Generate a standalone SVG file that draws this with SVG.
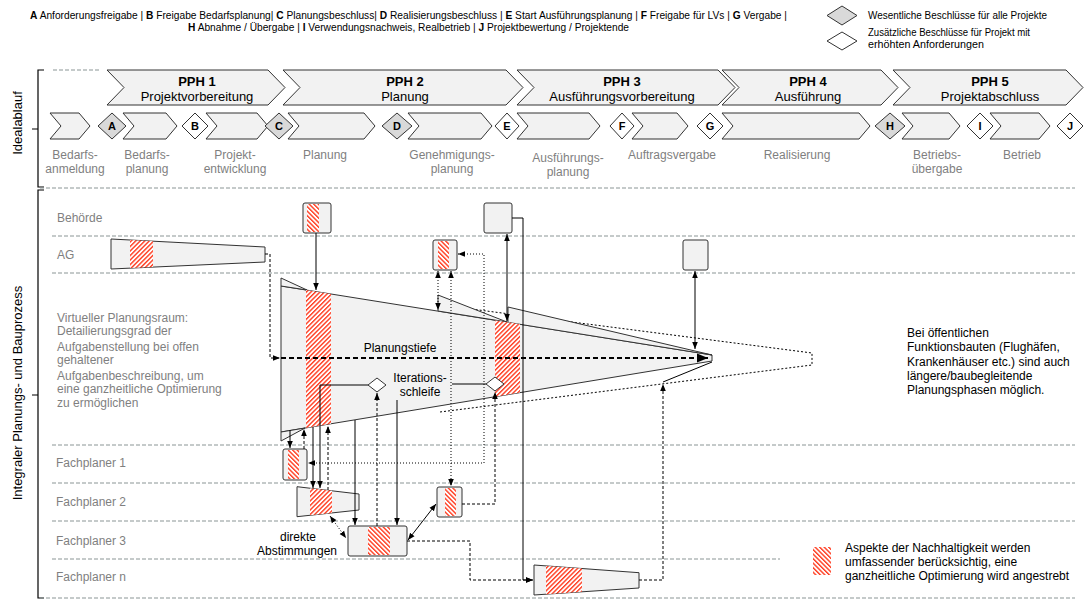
<svg xmlns="http://www.w3.org/2000/svg" width="1084" height="601" viewBox="0 0 1084 601">
<defs>
<style>
text{font-family:"Liberation Sans",Arial,sans-serif}
.t{font-size:12px;fill:#000}
.g{font-size:12px;fill:#7f7f7f}
.ph{font-size:13px;fill:#000}
.lg{font-size:10px;fill:#000}
.b{font-weight:bold}
.mid{text-anchor:middle}
.sh{fill:#f2f2f2;stroke:#333;stroke-width:1}
.dg{fill:#d9d9d9;stroke:#333;stroke-width:1}
.dw{fill:#fff;stroke:#333;stroke-width:1}
.dl{font-size:11px;font-weight:bold;text-anchor:middle;fill:#000}
.lane{stroke:#8a9595;stroke-width:1;stroke-dasharray:4 2;fill:none}
.c{fill:none;stroke:#000;stroke-width:1}
.cd{fill:none;stroke:#000;stroke-width:1;stroke-dasharray:3 2}
.co{fill:none;stroke:#000;stroke-width:1;stroke-dasharray:1 2}
.a{marker-end:url(#ah)}
.aa{marker-start:url(#ah);marker-end:url(#ah)}
.hf{fill:url(#hf)}
.hb{fill:url(#hb)}
</style>
<marker id="ah" viewBox="0 0 10 10" refX="10" refY="5" markerWidth="7" markerHeight="7" orient="auto-start-reverse" markerUnits="userSpaceOnUse"><path d="M0,1 L10,5 L0,9 z" fill="#000"/></marker>
<marker id="ahb" viewBox="0 0 10 10" refX="10" refY="5" markerWidth="11" markerHeight="11" orient="auto" markerUnits="userSpaceOnUse"><path d="M0,1 L10,5 L0,9 z" fill="#000"/></marker>
<pattern id="hf" patternUnits="userSpaceOnUse" width="3.2" height="8" patternTransform="rotate(45)"><rect width="3.2" height="8" fill="#fff"/><rect width="1.4" height="8" fill="#ff3b1f"/></pattern>
<pattern id="hb" patternUnits="userSpaceOnUse" width="3.2" height="8" patternTransform="rotate(-45)"><rect width="3.2" height="8" fill="#fff"/><rect width="1.4" height="8" fill="#ff3b1f"/></pattern>
<clipPath id="fc"><polygon points="281,286 712,355 712,361 281,432"/></clipPath>
</defs>
<rect width="1084" height="601" fill="#fff"/>

<g id="legend-top">
<text class="lg" x="30" y="19" textLength="757" lengthAdjust="spacingAndGlyphs"><tspan class="b">A</tspan> Anforderungsfreigabe | <tspan class="b">B</tspan> Freigabe Bedarfsplanung| <tspan class="b">C</tspan> Planungsbeschluss| <tspan class="b">D</tspan> Realisierungsbeschluss | <tspan class="b">E</tspan> Start Ausführungsplanung | <tspan class="b">F</tspan> Freigabe für LVs | <tspan class="b">G</tspan> Vergabe |</text>
<text class="lg" x="188" y="31" textLength="441" lengthAdjust="spacingAndGlyphs"><tspan class="b">H</tspan> Abnahme / Übergabe | <tspan class="b">I</tspan> Verwendungsnachweis, Realbetrieb | <tspan class="b">J</tspan> Projektbewertung / Projektende</text>
</g>
<g id="legend-diamonds">
<polygon class="dg" points="827,15.5 842,6 857,15.5 842,25"/>
<text class="lg" x="868" y="19" textLength="179" lengthAdjust="spacingAndGlyphs">Wesentliche Beschlüsse für alle Projekte</text>
<polygon class="dw" points="827,41 842,32 857,41 842,50"/>
<text class="lg" x="868" y="36" textLength="162" lengthAdjust="spacingAndGlyphs">Zusätzliche Beschlüsse für Projekt mit</text>
<text class="lg" x="868" y="48" textLength="116" lengthAdjust="spacingAndGlyphs">erhöhten Anforderungen</text>
</g>

<g id="frame">
<path d="M44,70 H38 V187 H44 M32,129 H38" fill="none" stroke="#000" stroke-width="1.2"/>
<text class="ph" font-size="13.5" text-anchor="middle" transform="translate(22,123) rotate(-90)">Idealablauf</text>
<path d="M44,190 H38 V598 H44 M32,395 H38" fill="none" stroke="#000" stroke-width="1.2"/>
<text class="ph" font-size="13.5" text-anchor="middle" transform="translate(22,393) rotate(-90)">Integraler Planungs- und Bauprozess</text>
</g>

<g id="lanes">
<line class="lane" x1="53" y1="70" x2="100" y2="70"/>
<line class="lane" x1="40" y1="188" x2="1075" y2="188"/>
<line class="lane" x1="52" y1="236" x2="1075" y2="236"/>
<line class="lane" x1="52" y1="273" x2="1075" y2="273"/>
<line class="lane" x1="52" y1="445" x2="1075" y2="445"/>
<line class="lane" x1="52" y1="483" x2="1075" y2="483"/>
<line class="lane" x1="52" y1="521" x2="1075" y2="521"/>
<line class="lane" x1="52" y1="559" x2="780" y2="559"/>
<line class="lane" x1="40" y1="598" x2="1075" y2="598"/>
<text class="g" x="57" y="222">Behörde</text>
<text class="g" x="57" y="259">AG</text>
<text class="g" x="56" y="467">Fachplaner 1</text>
<text class="g" x="56" y="506">Fachplaner 2</text>
<text class="g" x="56" y="545">Fachplaner 3</text>
<text class="g" x="56" y="581">Fachplaner n</text>
</g>

<g id="phases">
<polygon class="sh" points="107,70 268,70 285,87.5 268,105 107,105 124,87.5"/>
<polygon class="sh" points="283,70 506,70 523,87.5 506,105 283,105 300,87.5"/>
<polygon class="sh" points="517,70 718,70 735,87.5 718,105 517,105 534,87.5"/>
<polygon class="sh" points="722,70 881,70 898,87.5 881,105 722,105 739,87.5"/>
<polygon class="sh" points="893,70 1066,70 1083,87.5 1066,105 893,105 910,87.5"/>
<text class="ph b mid" x="197" y="86">PPH 1</text><text class="ph mid" x="197" y="101">Projektvorbereitung</text>
<text class="ph b mid" x="405" y="86">PPH 2</text><text class="ph mid" x="405" y="101">Planung</text>
<text class="ph b mid" x="622" y="86">PPH 3</text><text class="ph mid" x="622" y="101">Ausführungsvorbereitung</text>
<text class="ph b mid" x="808" y="86">PPH 4</text><text class="ph mid" x="808" y="101">Ausführung</text>
<text class="ph b mid" x="990" y="86">PPH 5</text><text class="ph mid" x="990" y="101">Projektabschluss</text>
</g>

<g id="steps">
<polygon class="sh" points="50,113 79,113 90,126 79,139 50,139 61,126"/>
<polygon class="sh" points="123,113 166,113 177,126 166,139 123,139 134,126"/>
<polygon class="sh" points="206,113 257,113 268,126 257,139 206,139 217,126"/>
<polygon class="sh" points="288,113 364,113 375,126 364,139 288,139 299,126"/>
<polygon class="sh" points="408,113 481,113 492,126 481,139 408,139 419,126"/>
<polygon class="sh" points="517,113 589,113 600,126 589,139 517,139 528,126"/>
<polygon class="sh" points="632,113 677,113 688,126 677,139 632,139 643,126"/>
<polygon class="sh" points="722,113 859,113 870,126 859,139 722,139 733,126"/>
<polygon class="sh" points="902,113 949,113 960,126 949,139 902,139 913,126"/>
<polygon class="sh" points="990,113 1039,113 1050,126 1039,139 990,139 1001,126"/>
<polygon class="dg" points="98,126 112,113 126,126 112,139"/><text class="dl" x="112" y="130">A</text>
<polygon class="dw" points="182,126 195,113 208,126 195,139"/><text class="dl" x="195" y="130">B</text>
<polygon class="dg" points="265,126 279,113 293,126 279,139"/><text class="dl" x="279" y="130">C</text>
<polygon class="dg" points="382,126 397,113 412,126 397,139"/><text class="dl" x="397" y="130">D</text>
<polygon class="dw" points="495,126 507,113 519,126 507,139"/><text class="dl" x="507" y="130">E</text>
<polygon class="dw" points="610,126 622,113 634,126 622,139"/><text class="dl" x="622" y="130">F</text>
<polygon class="dw" points="697,126 710,113 723,126 710,139"/><text class="dl" x="710" y="130">G</text>
<polygon class="dg" points="875,126 890,113 905,126 890,139"/><text class="dl" x="890" y="130">H</text>
<polygon class="dw" points="967,126 980,113 993,126 980,139"/><text class="dl" x="980" y="130">I</text>
<polygon class="dw" points="1057,126 1070,113 1083,126 1070,139"/><text class="dl" x="1070" y="130">J</text>
<text class="g mid" x="75" y="159">Bedarfs-</text><text class="g mid" x="75" y="173">anmeldung</text>
<text class="g mid" x="147" y="159">Bedarfs-</text><text class="g mid" x="147" y="173">planung</text>
<text class="g mid" x="235" y="159">Projekt-</text><text class="g mid" x="235" y="173">entwicklung</text>
<text class="g mid" x="325" y="159">Planung</text>
<text class="g mid" x="452" y="159">Genehmigungs-</text><text class="g mid" x="452" y="173">planung</text>
<text class="g mid" x="568" y="162">Ausführungs-</text><text class="g mid" x="568" y="176">planung</text>
<text class="g mid" x="672" y="159">Auftragsvergabe</text>
<text class="g mid" x="797" y="159">Realisierung</text>
<text class="g mid" x="937" y="159">Betriebs-</text><text class="g mid" x="937" y="173">übergabe</text>
<text class="g mid" x="1022" y="159">Betrieb</text>
</g>

<g id="virtual-text">
<text class="g" x="57" y="322">Virtueller Planungsraum:</text>
<text class="g" x="57" y="335">Detailierungsgrad der</text>
<text class="g" x="57" y="351">Aufgabenstellung bei offen</text>
<text class="g" x="57" y="364">gehaltener</text>
<text class="g" x="57" y="380">Aufgabenbeschreibung, um</text>
<text class="g" x="57" y="393">eine ganzheitliche Optimierung</text>
<text class="g" x="57" y="407">zu ermöglichen</text>
</g>

<g id="funnel">
<polyline points="440,305 812,353 812,365 440,412" fill="none" stroke="#000" stroke-width="1" stroke-dasharray="2 2"/>
<polygon class="sh" points="281,286 712,355 712,361 281,432"/>
<polygon class="sh" points="281,278 307,290 281,286"/>
<polygon class="sh" points="281,432 305,428 281,441"/>
<polygon class="sh" points="438,295 507,322 438,311"/>
<polygon class="sh" points="508,307 712,355 508,322.4"/>
<g clip-path="url(#fc)">
<rect class="hf" x="306" y="280" width="25" height="160"/>
<rect class="hf" x="495" y="300" width="25" height="110"/>
</g>
<line class="c" x1="663" y1="382" x2="712" y2="362"/>
<text class="t mid" x="400" y="352">Planungstiefe</text>
<text class="t mid" x="420" y="382">Iterations-</text>
<text class="t mid" x="420" y="396">schleife</text>
</g>

<g id="behoerde-1"><rect class="sh" x="303" y="203" width="28" height="30" rx="2"/><rect class="hb" x="307" y="204" width="12" height="28"/></g>
<g id="behoerde-2"><rect class="sh" x="484" y="203" width="28" height="30" rx="2"/></g>
<g id="ag-1"><polygon class="sh" points="111,239 265,247 265,262 111,269"/><polygon class="hf" points="130,240 153,241.2 153,267.1 130,268.1"/></g>
<g id="ag-2"><rect class="sh" x="433" y="240" width="24" height="30" rx="2"/><rect class="hb" x="438" y="241" width="11" height="28"/></g>
<g id="ag-3"><rect class="sh" x="683" y="240" width="25" height="30" rx="2"/></g>
<g id="fp1"><rect class="sh" x="283" y="449" width="24" height="31" rx="2"/><rect class="hb" x="288" y="450" width="11" height="29"/></g>
<g id="fp2"><polygon class="sh" points="297,486.7 359,494 359,510 297,516.7"/><polygon class="hf" points="310,488.2 332,490.8 332,512.9 310,515.3"/></g>
<g id="fp2-b"><rect class="sh" x="437" y="487" width="25" height="30" rx="2"/><rect class="hb" x="445" y="488" width="11" height="28"/></g>
<g id="fp3"><rect class="sh" x="348" y="526" width="59" height="30" rx="2"/><rect class="hb" x="368" y="527" width="22" height="28"/></g>
<g id="fpn"><polygon class="sh" points="534,565 639,572.7 639,588 534,595"/><polygon class="hf" points="546,565.9 582,568.5 582,591.8 546,594.2"/></g>
<g id="dia-1"><polygon class="dw" points="368,385 377,378 386,385 377,392"/></g>
<g id="dia-2"><polygon class="dw" points="486,384 495,377 504,384 495,391"/></g>

<g id="connectors">
<path class="cd a" d="M265,254 H270 V358 H280"/>
<path d="M281,358 H708" fill="none" stroke="#000" stroke-width="2" stroke-dasharray="5 3" marker-end="url(#ahb)"/>
<path class="c a" d="M316,233 V290"/>
<path class="co aa" d="M438,271 V310"/>
<path class="co aa" d="M451,271 V486"/>
<path class="co aa" d="M458,254 H484 V463 H308"/>
<path class="c aa" d="M507,234 V321"/>
<path class="c a" d="M512,218 H523 V580 H533"/>
<path class="c aa" d="M695,271 V349"/>
<path class="c a" d="M368,385 H320 V488"/>
<path class="cd a" d="M377,526 V393"/>
<path class="c a" d="M397,400 V525"/>
<path class="c" d="M486,384 H452"/>
<path class="cd a" d="M462,504 H495 V392"/>
<path class="c a" d="M290,430 V448"/>
<path class="cd a" d="M304,449 V429"/>
<path class="c a" d="M313,427 V488"/>
<path class="cd a" d="M328,490 V426"/>
<path class="c a" d="M355,420 V525"/>
<path class="c aa" d="M436,504 L408,540"/>
<path class="co aa" d="M330,516 L346,538"/>
<path class="cd a" d="M407,541 H470 V580 H533"/>
<path class="cd a" d="M639,580 H663 V384"/>
</g>

<g id="labels">
<text class="t mid" x="298" y="541">direkte</text>
<text class="t mid" x="297" y="555">Abstimmungen</text>
<text class="t" x="907" y="337">Bei öffentlichen</text>
<text class="t" x="907" y="351">Funktionsbauten (Flughäfen,</text>
<text class="t" x="907" y="366">Krankenhäuser etc.) sind auch</text>
<text class="t" x="907" y="380">längere/baubegleitende</text>
<text class="t" x="907" y="394">Planungsphasen möglich.</text>
</g>
<g id="legend-hatch">
<rect class="hb" x="813" y="547" width="18" height="28"/>
<text class="t" x="845" y="552">Aspekte der Nachhaltigkeit werden</text>
<text class="t" x="845" y="566">umfassender berücksichtig, eine</text>
<text class="t" x="845" y="580">ganzheitliche Optimierung wird angestrebt</text>
</g>
</svg>
